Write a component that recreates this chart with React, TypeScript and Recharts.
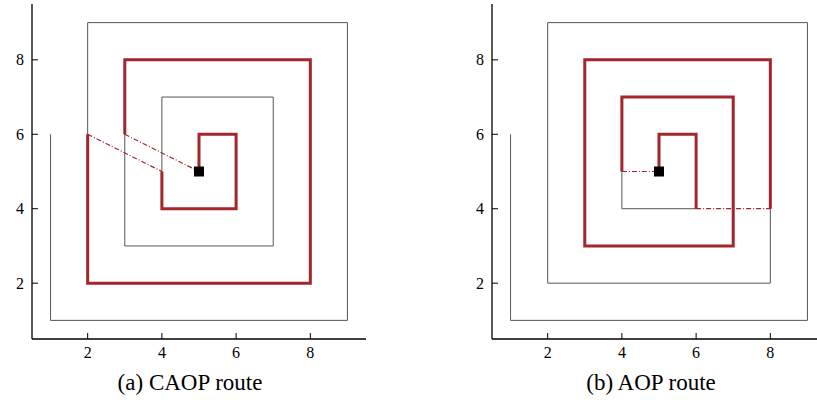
import { ComposedChart, Line, Scatter, XAxis, YAxis } from "recharts";

// full serpentine of the grid, outside-in
const spiralX = [1, 1, 9, 9, 2, 2, 8, 8, 3, 3, 7, 7, 4, 4, 6, 6, 5, 5];
const spiralY = [6, 1, 1, 9, 9, 2, 2, 8, 8, 3, 3, 7, 7, 4, 4, 6, 6, 5];

// (a) CAOP route
const caopOuterX = [3, 3, 8, 8, 2, 2];
const caopOuterY = [6, 8, 8, 2, 2, 6];
const caopInnerX = [4, 4, 6, 6, 5, 5];
const caopInnerY = [5, 4, 4, 6, 6, 5];
const caopJumpX = [[2, 4], [3, 5]];
const caopJumpY = [[6, 5], [6, 5]];

// (b) AOP route
const aopOuterX = [8, 8, 3, 3, 7, 7, 4, 4];
const aopOuterY = [4, 8, 8, 3, 3, 7, 7, 5];
const aopInnerX = [6, 6, 5, 5];
const aopInnerY = [4, 6, 6, 5];
const aopJumpX = [[4, 5], [6, 8]];
const aopJumpY = [[5, 5], [4, 4]];

const depot = [{ x: 5, y: 5 }];
const ticks = [2, 4, 6, 8];

const RED = "#a3262d";
const FONT = "Liberation Serif, Tinos, DejaVu Serif, serif";

const pts = (xs: number[], ys: number[]) => xs.map((x, i) => ({ x, y: ys[i] }));

const bottomTick = (p: any) => (
  <g>
    <line x1={p.x} x2={p.x} y1={p.y} y2={p.y - 6} stroke="#000" />
    <text x={p.x} y={p.y + 19} textAnchor="middle" fontSize={16} style={{ fontFamily: FONT }} fill="#000">
      {p.payload.value}
    </text>
  </g>
);
const leftTick = (p: any) => (
  <g>
    <line x1={p.x} x2={p.x + 6} y1={p.y} y2={p.y} stroke="#000" />
    <text x={p.x - 8} y={p.y} dy="0.35em" textAnchor="end" fontSize={16} style={{ fontFamily: FONT }} fill="#000">
      {p.payload.value}
    </text>
  </g>
);
const topTick = (p: any) => <line x1={p.x} x2={p.x} y1={p.y} y2={p.y + 6} stroke="#000" />;
const rightTick = (p: any) => <line x1={p.x} x2={p.x - 6} y1={p.y} y2={p.y} stroke="#000" />;

function RoutePlot({ outerX, outerY, innerX, innerY, jumpX, jumpY }: any) {
  const dom: [number, number] = [0.5, 9.5];
  return (
    <ComposedChart width={400} height={403} margin={{ top: 4, right: 34, left: 0, bottom: 0 }}>
      <XAxis type="number" dataKey="x" domain={dom} ticks={ticks} height={64}
        axisLine={{ stroke: "#000", strokeWidth: 1.3 }} tickLine={false} tickSize={0} tickMargin={0} tick={bottomTick} />
      <XAxis xAxisId="top" orientation="top" type="number" dataKey="x" domain={dom} ticks={ticks} height={0}
        axisLine={{ stroke: "#000", strokeWidth: 1.3 }} tickLine={false} tickSize={0} tickMargin={0} tick={topTick} />
      <YAxis type="number" dataKey="y" domain={dom} ticks={ticks} width={32}
        axisLine={{ stroke: "#000", strokeWidth: 1.3 }} tickLine={false} tickSize={0} tickMargin={0} tick={leftTick} />
      <YAxis yAxisId="right" orientation="right" type="number" dataKey="y" domain={dom} ticks={ticks} width={0}
        axisLine={{ stroke: "#000", strokeWidth: 1.3 }} tickLine={false} tickSize={0} tickMargin={0} tick={rightTick} />
      <Line data={pts(spiralX, spiralY)} dataKey="y" stroke="#555" strokeWidth={1} dot={false}
        activeDot={false} isAnimationActive={false} />
      {jumpX.map((xs: number[], i: number) => (
        <Line key={"j" + i} data={pts(xs, jumpY[i])} dataKey="y" stroke={RED} strokeWidth={1.2}
          strokeDasharray="5 2 1 2" dot={false} activeDot={false} isAnimationActive={false} />
      ))}
      <Line data={pts(outerX, outerY)} dataKey="y" stroke={RED} strokeWidth={3} dot={false}
        activeDot={false} isAnimationActive={false} />
      <Line data={pts(innerX, innerY)} dataKey="y" stroke={RED} strokeWidth={3} dot={false}
        activeDot={false} isAnimationActive={false} />
      <Scatter data={depot} dataKey="y" isAnimationActive={false}
        shape={(p: any) => <rect x={p.cx - 5} y={p.cy - 5} width={10} height={10} fill="#000" />} />
    </ComposedChart>
  );
}

export default function App() {
  const caption = { position: "absolute" as const, top: 370, fontSize: 23, fontFamily: FONT, transform: "translateX(-50%)", whiteSpace: "nowrap" as const };
  return (
    <div style={{ position: "absolute", left: 0, top: 0, width: 817, height: 403, overflow: "hidden", background: "#fff" }}>
      <div style={{ position: "absolute", left: 0, top: 0 }}>
        <RoutePlot outerX={caopOuterX} outerY={caopOuterY} innerX={caopInnerX} innerY={caopInnerY}
          jumpX={caopJumpX} jumpY={caopJumpY} />
      </div>
      <div style={{ position: "absolute", left: 460, top: 0 }}>
        <RoutePlot outerX={aopOuterX} outerY={aopOuterY} innerX={aopInnerX} innerY={aopInnerY}
          jumpX={aopJumpX} jumpY={aopJumpY} />
      </div>
      <div style={{ ...caption, left: 190 }}>(a) CAOP route</div>
      <div style={{ ...caption, left: 651 }}>(b) AOP route</div>
    </div>
  );
}
